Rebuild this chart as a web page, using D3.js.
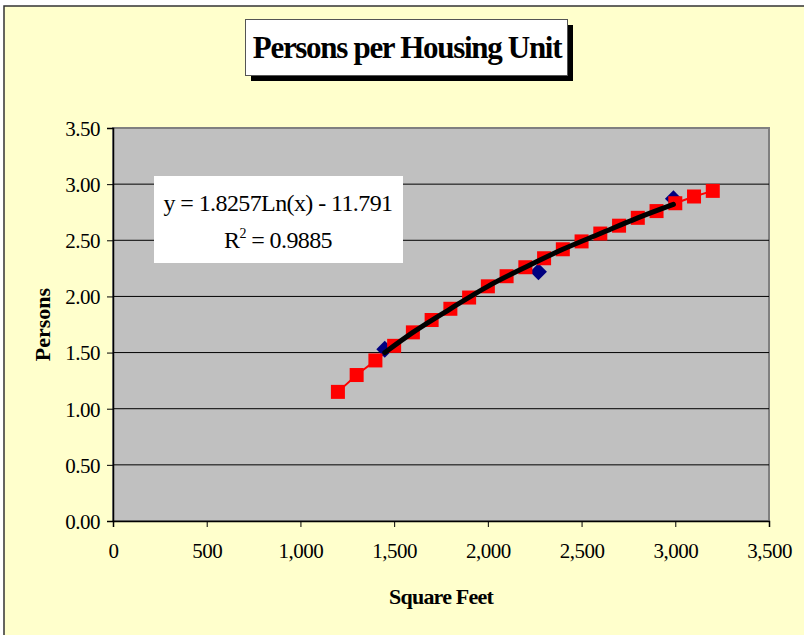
<!DOCTYPE html>
<html>
<head>
<meta charset="utf-8">
<script src="https://cdn.jsdelivr.net/npm/d3@7"></script>
<style>
  body { margin: 0; background: #fff; }
  svg text { font-family: "Liberation Serif", "Times New Roman", serif; }
</style>
</head>
<body>
<div id="chart"></div>
<script>
// observed points (blue diamonds)
var obsSqft = [1450, 2270, 2990];
var obsPersons = [1.53, 2.22, 2.87];

// red squares
var sqft = [1200, 1300, 1400, 1500, 1600, 1700, 1800, 1900, 2000, 2100, 2200,
            2300, 2400, 2500, 2600, 2700, 2800, 2900, 3000, 3100, 3200];
var persons = [1.15, 1.30, 1.43, 1.56, 1.68, 1.79, 1.89, 1.99, 2.09, 2.18, 2.26,
               2.34, 2.42, 2.49, 2.56, 2.63, 2.70, 2.76, 2.83, 2.89, 2.94];

// trend line
var trendSqft = [1450, 1600, 1800, 2000, 2200, 2400, 2600, 2800, 2990];
var trendPersons = [1.50, 1.68, 1.89, 2.09, 2.26, 2.42, 2.56, 2.70, 2.82];

var xTicks = [0, 500, 1000, 1500, 2000, 2500, 3000, 3500];
var yTicks = [0, 0.5, 1, 1.5, 2, 2.5, 3, 3.5];

var chartTitle = "Persons per Housing Unit";
var xTitle = "Square Feet";
var yTitle = "Persons";
var eqLine1 = "y = 1.8257Ln(x) - 11.791";
var eqLine2 = "0.9885";

var W = 804, H = 635;
var plot = {left: 113, top: 128, right: 769, bottom: 521};

var svg = d3.select("#chart").append("svg")
    .attr("width", W)
    .attr("height", H);

// chart background
svg.append("rect")
    .attr("x", 4).attr("y", 6)
    .attr("width", W + 10).attr("height", H + 10)
    .style("fill", "#ffffcc")
    .style("stroke", "#333")
    .style("stroke-width", 1.5);

var x = d3.scaleLinear().domain([0, 3500]).range([plot.left, plot.right]);
var y = d3.scaleLinear().domain([0, 3.5]).range([plot.bottom, plot.top]);

// plot area
svg.append("rect")
    .attr("x", plot.left).attr("y", plot.top)
    .attr("width", plot.right - plot.left).attr("height", plot.bottom - plot.top)
    .style("fill", "#c0c0c0")
    .style("stroke", "#808080")
    .style("stroke-width", 2);

// gridlines
svg.append("g")
    .selectAll("line")
    .data(yTicks.filter(function(d) { return d > 0 && d < 3.5; }))
    .enter().append("line")
    .attr("x1", plot.left).attr("x2", plot.right)
    .attr("y1", function(d) { return y(d); })
    .attr("y2", function(d) { return y(d); })
    .style("stroke", "#000")
    .style("stroke-width", 1);

// axes
var xAxis = svg.append("g")
    .attr("transform", "translate(0," + plot.bottom + ")")
    .call(d3.axisBottom(x).tickValues(xTicks).tickSize(6).tickPadding(16)
      .tickFormat(d3.format(",")));
var yAxis = svg.append("g")
    .attr("transform", "translate(" + plot.left + ",0)")
    .call(d3.axisLeft(y).tickValues(yTicks).tickSize(6).tickPadding(7)
      .tickFormat(d3.format(".2f")));

[xAxis, yAxis].forEach(function(a) {
  a.select(".domain").style("stroke", "#000").style("stroke-width", 1.5);
  a.selectAll(".tick line").style("stroke", "#000");
  a.selectAll("text")
    .style("font-family", "'Liberation Serif', serif")
    .style("font-size", "21px")
    .style("letter-spacing", "-0.5px")
    .style("fill", "#000");
});
yAxis.selectAll("text").attr("dy", "0.35em");

// red series
var line = d3.line()
    .x(function(d) { return x(d[0]); })
    .y(function(d) { return y(d[1]); });

var redData = d3.zip(sqft, persons);
svg.append("path")
    .datum(redData)
    .attr("d", line)
    .style("fill", "none")
    .style("stroke", "#ff0000")
    .style("stroke-width", 2);

// blue diamonds (drawn under the squares)
var obsData = d3.zip(obsSqft, obsPersons);
svg.append("g")
    .selectAll("path")
    .data(obsData)
    .enter().append("path")
    .attr("d", d3.symbol().type(d3.symbolSquare).size(144))
    .attr("transform", function(d) {
      return "translate(" + x(d[0]) + "," + y(d[1]) + ") rotate(45)";
    })
    .style("fill", "#000080");

svg.append("g")
    .selectAll("rect")
    .data(redData)
    .enter().append("rect")
    .attr("x", function(d) { return x(d[0]) - 7; })
    .attr("y", function(d) { return y(d[1]) - 7; })
    .attr("width", 14).attr("height", 14)
    .style("fill", "#ff0000");

// trend line
var trendLine = d3.line()
    .x(function(d) { return x(d[0]); })
    .y(function(d) { return y(d[1]); })
    .curve(d3.curveMonotoneX);
svg.append("path")
    .datum(d3.zip(trendSqft, trendPersons))
    .attr("d", trendLine)
    .style("fill", "none")
    .style("stroke", "#000")
    .style("stroke-width", 5)
    .style("stroke-linecap", "round");

// equation box
var eq = svg.append("g");
eq.append("rect")
    .attr("x", 154).attr("y", 176)
    .attr("width", 249).attr("height", 87)
    .style("fill", "#fff");
eq.append("text")
    .attr("x", 278).attr("y", 211)
    .attr("text-anchor", "middle")
    .style("font-size", "24px")
    .style("letter-spacing", "-0.6px")
    .text(eqLine1);
var r2 = eq.append("text")
    .attr("x", 278).attr("y", 248)
    .attr("text-anchor", "middle")
    .style("font-size", "24px")
    .style("letter-spacing", "-0.6px");
r2.append("tspan").text("R");
r2.append("tspan").attr("dy", -10).style("font-size", "14px").text("2");
r2.append("tspan").attr("dy", 10).text(" = " + eqLine2);

// title with shadow
svg.append("rect")
    .attr("x", 251).attr("y", 25)
    .attr("width", 322).attr("height", 56)
    .style("fill", "#000");
svg.append("rect")
    .attr("x", 245.5).attr("y", 19.5)
    .attr("width", 322).attr("height", 56)
    .style("fill", "#fff")
    .style("stroke", "#555")
    .style("stroke-width", 1);
svg.append("text")
    .attr("x", 407).attr("y", 58)
    .attr("text-anchor", "middle")
    .style("font-size", "31px")
    .style("font-weight", "bold")
    .style("letter-spacing", "-1.3px")
    .text(chartTitle);

// axis titles
svg.append("text")
    .attr("x", (plot.left + plot.right) / 2).attr("y", 604)
    .attr("text-anchor", "middle")
    .style("font-size", "22px")
    .style("font-weight", "bold")
    .style("letter-spacing", "-0.8px")
    .text(xTitle);
svg.append("text")
    .attr("transform", "translate(50," + ((plot.top + plot.bottom) / 2) + ") rotate(-90)")
    .attr("text-anchor", "middle")
    .style("font-size", "22px")
    .style("font-weight", "bold")
    .text(yTitle);
</script>
</body>
</html>
